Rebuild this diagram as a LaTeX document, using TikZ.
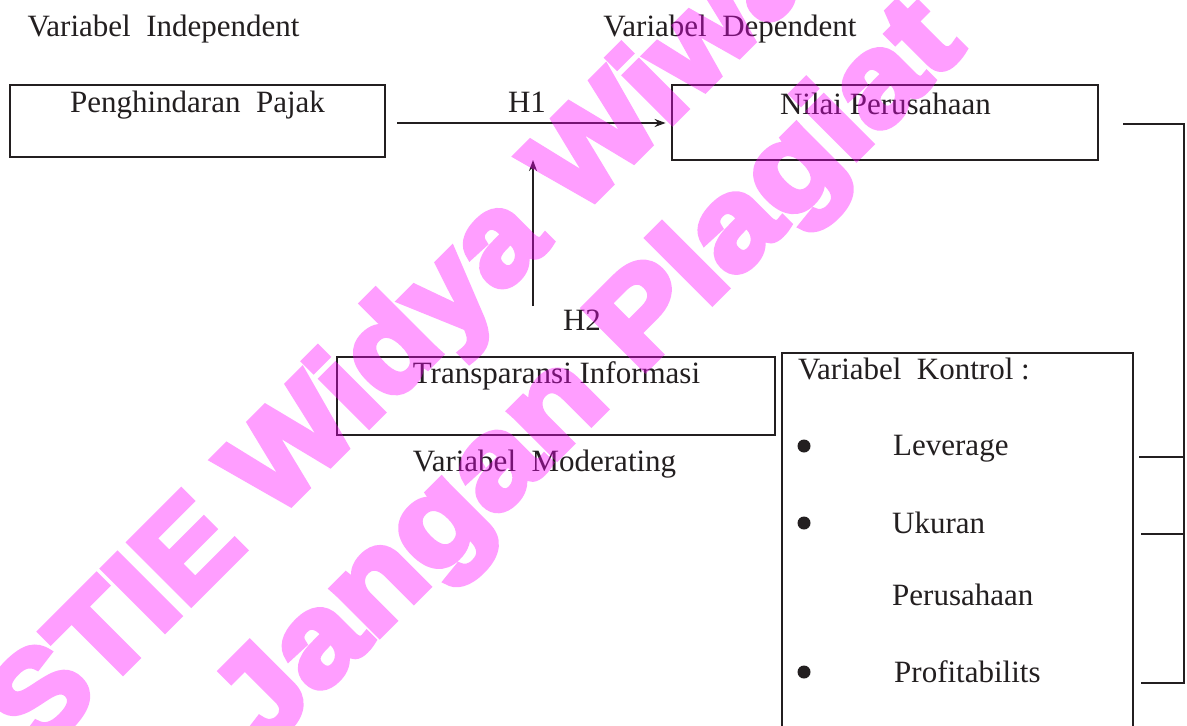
\documentclass[tikz,border=0pt]{standalone}
\usepackage{graphicx}
\usepackage{fontspec}
\setmainfont{Liberation Serif}
\newfontfamily\wmfont[FakeBold=5]{Liberation Sans Bold}
\usetikzlibrary{arrows.meta}
\definecolor{ink}{RGB}{35,31,32}
\definecolor{wm}{RGB}{255,0,255}
\tikzset{
  box/.style={draw=ink, line width=2.8pt, inner sep=0pt},
  lbl/.style={text=ink, inner sep=0pt, anchor=base, font=\fontsize{31}{36}\selectfont},
  lblw/.style={lbl, anchor=base west},
  conn/.style={draw=ink, line width=2.2pt, -{Stealth[length=11pt,width=8pt]}},
  brk/.style={draw=ink, line width=2.6pt},
  dot/.style={circle, fill=ink, minimum size=13pt, inner sep=0pt},
  wmk/.style={text=wm, rotate=45, anchor=base west, inner sep=0pt, font=\wmfont\fontsize{126}{126}\selectfont},
}
\begin{document}
\begin{tikzpicture}[x=1pt,y=-1pt]
\clip (0,0) rectangle (1187,726);
\fill[white] (0,0) rectangle (1187,726);
% boxes
\node[box, minimum width=375pt, minimum height=72pt] (b1) at (197.5,121) {};
\node[box, minimum width=426pt, minimum height=75pt] (b2) at (885,122.5) {};
\node[box, minimum width=438pt, minimum height=78pt] (b3) at (556,396) {};
\node[box, minimum width=351pt, minimum height=437pt] (b4) at (957.5,571.5) {};
% headings
\node[lbl] (tind) at (163.5,36) {Variabel\ \ Independent};
\node[lbl] (tdep) at (730,36) {Variabel\ \ Dependent};
\node[lbl] (t1) at (197.5,112) {Penghindaran\ \ Pajak};
\node[lbl] (th1) at (527,112) {H1};
\node[lbl] (t2) at (885.5,114) {Nilai Perusahaan};
\node[lbl] (th2) at (582,330) {H2};
\node[lbl] (t3) at (556.5,383) {Transparansi Informasi};
\node[lbl] (tmod) at (544.5,471) {Variabel\ \ Moderating};
\node[lblw] (t4) at (798,379) {Variabel\ \ Kontrol :};
\node[lblw] (k1) at (893,455) {Leverage};
\node[lblw] (k2) at (892,533) {Ukuran};
\node[lblw] (k3) at (892,605) {Perusahaan};
\node[lblw] (k4) at (894,682) {Profitabilits};
\node[dot] (d1) at (804,446) {};
\node[dot] (d2) at (804,523) {};
\node[dot] (d3) at (804,672) {};
% connectors
\coordinate (h1a) at (397,123);
\draw[conn, shorten >=5pt] (h1a) -- (h1a -| b2.west);
\coordinate (h2a) at (533,306);
\coordinate (h2b) at (533,160);
\draw[conn] (h2a) -- (h2b);
% bracket
\coordinate (r0) at (1123,124);
\coordinate (r1) at (1184,683);
\coordinate (r2) at (1141,683);
\coordinate (r3) at (1139,457);
\coordinate (r4) at (1141,534);
\draw[brk] (r0) -| (r1) -- (r2);
\draw[brk] (r3) -- (r3 -| r1);
\draw[brk] (r4) -- (r4 -| r1);
% watermark
\begin{scope}[transparency group, opacity=0.38]
\node[wmk] (w1) at (38,757) {\scalebox{1.06}[1]{STIE Widya Wiwaha}};
\node[wmk] (w2) at (262,753) {\scalebox{1.12}[1]{Jangan Plagiat}};
\end{scope}
\end{tikzpicture}
\end{document}
